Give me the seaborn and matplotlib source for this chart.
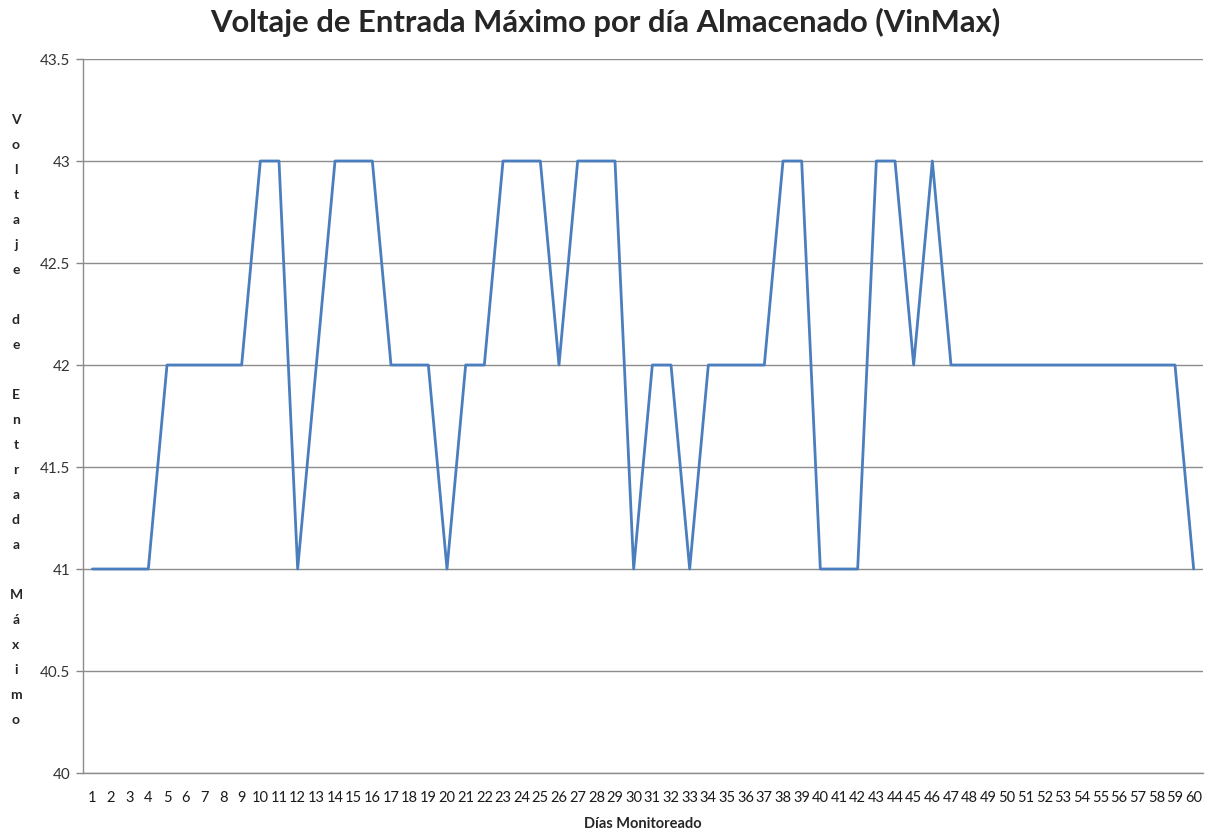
import numpy as np
import pandas as pd
import matplotlib
matplotlib.use("Agg")
import matplotlib.pyplot as plt
import seaborn as sns
from matplotlib.ticker import FixedLocator

# Datos
dias = list(range(1, 61))
vin_max = [41, 41, 41, 41, 42, 42, 42, 42, 42, 43,
           43, 41, 42, 43, 43, 43, 42, 42, 42, 41,
           42, 42, 43, 43, 43, 42, 43, 43, 43, 41,
           42, 42, 41, 42, 42, 42, 42, 43, 43, 41,
           41, 41, 43, 43, 42, 43, 42, 42, 42, 42,
           42, 42, 42, 42, 42, 42, 42, 42, 42, 41]
y_ticks = [40, 40.5, 41, 41.5, 42, 42.5, 43, 43.5]
y_tick_labels = ["40", "40.5", "41", "41.5", "42", "42.5", "43", "43.5"]

titulo = "Voltaje de Entrada Máximo por día Almacenado (VinMax)"
x_label = "Días Monitoreado"
y_label = "Voltaje de Entrada Máximo"

df = pd.DataFrame({"dia": dias, "vin": vin_max})

sns.set_style("white")
plt.rcParams["font.family"] = ["Lato", "DejaVu Sans"]

fig = plt.figure(figsize=(12.11, 8.37), dpi=100)
ax = fig.add_axes([83 / 1211, 1 - 774 / 837, 1120 / 1211, 714 / 837])

sns.lineplot(data=df, x="dia", y="vin", ax=ax, color="#4A7EBF", linewidth=2.0)

# Eje de categorias: puntos al centro de cada categoria
ax.set_xlim(0.5, len(dias) + 0.5)
ax.set_ylim(40, 43.5)

ax.set_xticks(dias)
ax.set_xticklabels([str(d) for d in dias], fontsize=10.5, color="#1a1a1a")
ax.tick_params(axis="x", which="major", length=0, pad=12)
ax.xaxis.set_minor_locator(FixedLocator(np.arange(0.5, len(dias) + 1, 1)))
ax.tick_params(axis="x", which="minor", length=5, color="#888888", width=1)

ax.set_yticks(y_ticks)
ax.set_yticklabels(y_tick_labels, fontsize=11, color="#333333")
ax.tick_params(axis="y", which="major", length=5, color="#888888", width=1, pad=4, direction="out", left=True)

ax.grid(axis="y", color="#8c8c8c", linewidth=1.0)
ax.grid(axis="x", visible=False)
ax.set_axisbelow(True)

for side in ["top", "right"]:
    ax.spines[side].set_visible(False)
for side in ["left", "bottom"]:
    ax.spines[side].set_color("#8c8c8c")
    ax.spines[side].set_linewidth(1.0)

ax.set_xlabel(x_label, fontsize=10.5, fontweight="bold", labelpad=9)
ax.set_ylabel("")

# Etiqueta del eje y apilada letra por letra
fig.text(16 / 1211, 1 - 420 / 837, "\n".join(list(y_label)), ha="center", va="center",
         fontsize=10, fontweight="bold", linespacing=2.3)

fig.suptitle(titulo, x=0.5, y=1 - 22 / 837, va="center", fontsize=22.3, fontweight="bold")

fig.savefig("out.png", dpi=100)
